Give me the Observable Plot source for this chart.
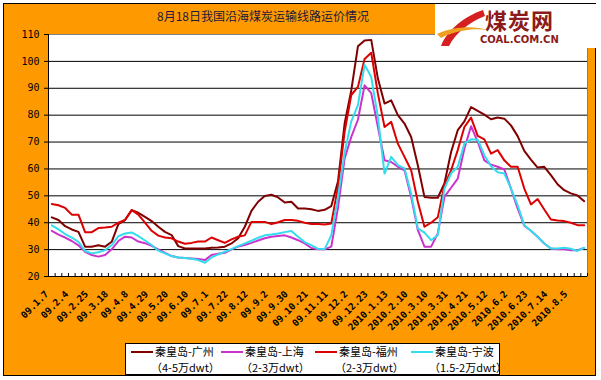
<!DOCTYPE html>
<html><head><meta charset="utf-8">
<script src="https://cdn.jsdelivr.net/npm/d3@7"></script>
<script src="https://cdn.jsdelivr.net/npm/@observablehq/plot@0.6"></script>
<style>
html,body{margin:0;padding:0;background:#fff;}
#wrap{position:relative;width:601px;height:380px;overflow:hidden;background:#fff;}
#bg{position:absolute;left:3px;top:3px;width:593px;height:373px;background:#FF9900;border:1px solid #000;box-sizing:border-box;}
#chart{position:absolute;left:0;top:0;}
#title{position:absolute;left:157px;top:7px;font:12px "Noto Sans CJK SC";color:#1a1a3a;white-space:nowrap;}
#logo{position:absolute;left:435px;top:4px;width:161px;height:44px;background:#fff;}
#legend{position:absolute;left:125px;top:343px;width:375px;height:32px;background:#fff;border:1px solid #000;box-sizing:border-box;font:11px "Noto Sans CJK SC";color:#000;}
.it{position:absolute;top:0;height:30px;}
.sw{position:absolute;top:7px;height:2px;}
.l1{position:absolute;top:-1px;white-space:nowrap;line-height:16px;}
.l2{position:absolute;top:15px;white-space:nowrap;line-height:16px;}
</style></head>
<body>
<div id="wrap">
  <div id="bg"></div>
  <div id="chart"></div>
  <div id="title">8月18日我国沿海煤炭运输线路运价情况</div>
  <div id="logo">
    <svg width="161" height="44" style="position:absolute;left:0;top:0">
      <path d="M48,6 C30,12 12,26 6,42 L14,42 C20,30 34,18 50,12 Z" fill="#D42020"/>
      <path d="M2,30 C20,22 40,22 52,26 C40,24 22,26 6,34 Z" fill="#F0A020"/>
    </svg>
    <div style="position:absolute;left:50px;top:1px;font:bold 22px 'Noto Sans CJK SC';color:#8B1A1A;letter-spacing:1px;line-height:28px;">煤炭网</div>
    <div style="position:absolute;left:45px;top:30px;font:bold 10px 'DejaVu Sans';color:#8B1A1A;line-height:12px;">COAL.COM.CN</div>
  </div>
  <div id="legend"></div>
</div>
<script>
const seriesNames = ["秦皇岛-广州", "秦皇岛-上海", "秦皇岛-福州", "秦皇岛-宁波"];
const seriesSubs = ["（4-5万dwt）", "（2-3万dwt）", "（2-3万dwt）", "（1.5-2万dwt）"];
const seriesColors = ["#800000", "#CC33CC", "#DD0000", "#33DDEE"];

const tickLabels = ["09.1.7","09.2.4","09.2.25","09.3.18","09.4.8","09.4.29","09.5.20","09.6.10","09.7.1","09.7.22","09.8.12","09.9.2","09.9.30","09.10.21","09.11.11","09.12.2","09.12.23","2010.1.13","2010.2.10","2010.3.10","2010.3.31","2010.4.21","2010.5.12","2010.6.2","2010.6.23","2010.7.14","2010.8.5"];
const labelStep = 3;

const guangzhou = [42,41,38.7,37.5,36.6,31.1,31.1,31.6,31.1,32.9,39.5,41,44.7,43.7,42.2,40.6,38.5,36.6,35.4,31.3,30.4,30.4,30.4,30.4,30.7,30.8,31.1,32.3,34.2,38.5,44.4,47.8,49.9,50.4,49.4,47.5,47.8,45.3,45.3,45,44.4,44.8,46.2,55.3,76.9,89.2,105.6,107.8,108,93.6,84.3,85.5,80,76.9,71.9,61.4,49.6,49.3,49.3,54.6,66.3,74.4,77.7,83,81.6,80.2,78.5,79.1,78.7,76.2,72.2,66.7,63.5,60.5,60.8,57.7,54.3,52.1,50.9,50.1,48];
const shanghai = [37,35.6,34.5,33.2,31.6,29.2,28,27.4,28,30.1,33.2,34.8,34.5,33,32.4,31.4,30.1,28.8,27.6,27.1,26.9,26.7,26.5,26.1,28,28.5,28.8,30.1,31.1,31.7,32.5,33.4,34.2,34.8,35.1,35.3,34.5,33.5,32.3,30.6,30.1,30.1,31.1,45.5,63.9,71.9,78.3,91.1,88.2,75.6,63.2,62.6,60.8,59.5,49.6,37.3,31.1,31.1,36,49.6,53,56.4,67.6,75.9,70.1,63.2,61.6,60.8,59.8,52.7,45.3,38.9,37,34.8,32.3,30.4,30.1,30.1,29.8,29.8,30.6];
const fuzhou = [47,46.5,45.5,43,43,36.5,36.5,38,38.2,38.5,40,41,44.7,43,40,37,35.2,34.5,34.2,33,32.2,32.5,33,33,34.5,33.5,32.5,33.8,34.8,35.3,40.3,40.3,40.3,39.5,40.2,41,41,40.7,40,39.5,39.5,39.3,39.7,53.3,73.8,87.5,90.5,100.9,103.2,88,75.6,77.5,69.4,64.5,59.5,47.8,38.5,40,42,54,59.5,67,75.6,79.1,72.3,71,65.7,67,63.2,60.8,60.8,52.7,46.8,48.8,44.9,41.2,40.8,40.6,40,39.1,39.1];
const ningbo = [39,37.5,35.8,34.5,32.9,29.5,28.6,29,29.8,31.7,35,36,36.4,35,33.4,31.7,29.6,28.6,27.6,27.1,26.9,26.6,26.1,25.1,27.1,28.2,29.2,30.2,31.3,32.3,33.3,34.4,35.3,35.6,36,36.5,36.9,34.8,32.8,31.7,30.3,30.2,35.4,49.6,66,77.7,83.7,98.8,94.2,79.3,58.3,64.5,61.4,60.2,50.9,37.9,36.3,33.5,35.4,52.7,58.3,60.8,69.4,71,70.9,65.1,61,58.8,58.3,52.7,46.5,39.1,37,34.8,32.3,30.4,30.4,30.7,30.3,29.5,30.7];

const yTicks = [20,30,40,50,60,70,80,90,100,110];

const allValues = [guangzhou, shanghai, fuzhou, ningbo];
const n = guangzhou.length;
const rows = [];
allValues.forEach((vals, s) => vals.forEach((v, i) => rows.push({i, v, name: seriesNames[s]})));
const bounds = d3.range(n + 1).map(k => k - 0.5);
const labelRows = tickLabels.map((t, k) => ({i: k * labelStep, t}));

const chart = Plot.plot({
  width: 601, height: 340,
  marginLeft: 48, marginRight: 14, marginTop: 34, marginBottom: 64,
  style: {background: "transparent", color: "black", fontFamily: "DejaVu Sans Mono", fontSize: "10px"},
  x: {type: "linear", domain: [-0.5, n - 0.5], axis: null},
  y: {domain: [20, 110]},
  color: {domain: seriesNames, range: seriesColors},
  marks: [
    Plot.frame({fill: "white", stroke: "#808080"}),
    Plot.ruleY(yTicks.filter(t => t > 20 && t < 110), {stroke: "black", strokeWidth: 1}),
    Plot.ruleX([-0.5], {stroke: "black"}),
    Plot.ruleY([20], {stroke: "black"}),
    Plot.ruleX(bounds, {x: d => d, y1: 20, y2: 21.1, stroke: "black"}),
    Plot.axisY({ticks: yTicks, tickSize: 4, tickPadding: 5, fontSize: 10, label: null, fontFamily: "DejaVu Sans Mono"}),
    Plot.line(rows, {x: "i", y: "v", z: "name", stroke: "name", strokeWidth: 2}),
    Plot.text(labelRows, {x: "i", y: 20, text: "t", rotate: -45, textAnchor: "end", dx: -5, dy: 16, fontSize: 9.5, fontWeight: "bold", fill: "black", fontFamily: "DejaVu Sans Mono"})
  ]
});
document.getElementById("chart").appendChild(chart);

// legend
const lg = document.getElementById("legend");
const itemX = [5, 95, 189, 285];
seriesNames.forEach((name, s) => {
  const it = document.createElement("div");
  it.className = "it";
  it.style.left = itemX[s] + "px";
  it.innerHTML = `<div class="sw" style="left:0;width:22px;background:${seriesColors[s]}"></div>
    <div class="l1" style="left:24px">${name}</div>
    <div class="l2" style="left:${s===3?18:20}px">${seriesSubs[s]}</div>`;
  lg.appendChild(it);
});
</script>
</body></html>
